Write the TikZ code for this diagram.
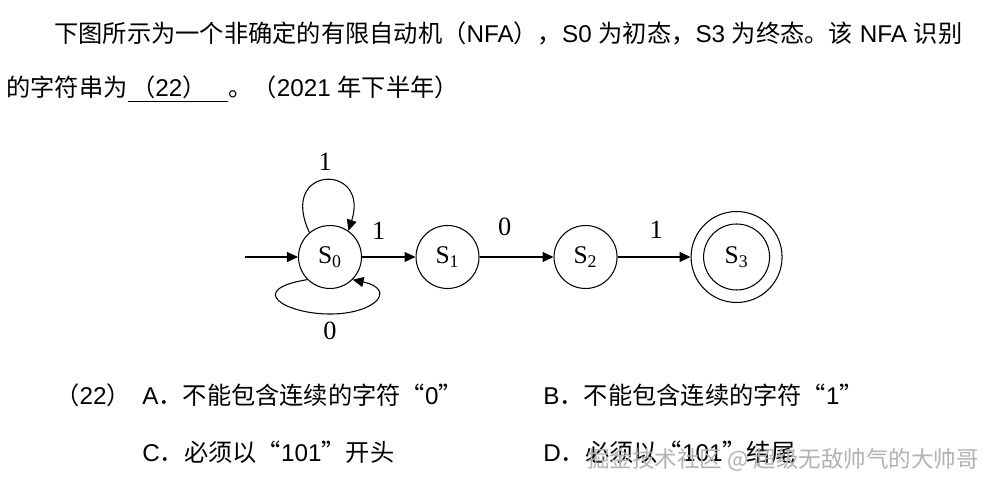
\documentclass[tikz,border=0pt]{standalone}
\usepackage{fontspec}
\setmainfont{Liberation Sans}
\newfontfamily\cjk{Noto Sans CJK SC}
\newfontfamily\tms{Liberation Serif}
\newcommand\lat[1]{{\rmfamily #1}}
\usetikzlibrary{positioning,arrows.meta}

\begin{document}
\begin{tikzpicture}[
    x=0.02cm, y=-0.02cm,
    node distance=1.07cm,
    state/.style={draw, circle, line width=0.6pt, minimum size=1.26cm, inner sep=0pt, font=\tms\fontsize{14.5}{16}\selectfont},
    arr/.style={-{Triangle[length=2.2mm,width=2mm]}, line width=0.6pt},
    lbl/.style={font=\tms\fontsize{15}{18}\selectfont, inner sep=0pt},
    txt/.style={anchor=base west, inner sep=0pt, font=\cjk\fontsize{13.8}{16}\selectfont}
]
\fill[white] (0,0) rectangle (988,489);
\useasboundingbox (0,0) rectangle (988,489);
% question text
\node[txt] (line1) at (54,42.5) {下图所示为一个非确定的有限自动机（\lat{NFA}），\lat{S0 }为初态，\lat{S3 }为终态。该\lat{ NFA }识别};
\node[txt] (line2) at (6,96.7) {的字符串为\underline{\hspace{0.15em}（\lat{22}）\hspace{0.9em}}。（\lat{2021 }年下半年）};
% automaton
\node[state] (S0) at (330,257) {S\textsubscript{0}};
\node[state, right=of S0] (S1) {S\textsubscript{1}};
\node[state, right=1.48cm of S1] (S2) {S\textsubscript{2}};
\node[state, minimum size=1.82cm, right=1.46cm of S2] (S3) {};
\node[state, minimum size=1.32cm] (S3in) at (S3) {S\textsubscript{3}};
\coordinate (start) at (245,257);
\path (S0.south) ++(0,25) coordinate (bot);
\draw[arr] (start) -- (S0);
\draw[arr] (S0) -- node[lbl, pos=.31, above=0.34cm] {1} (S1);
\draw[arr] (S1) -- node[lbl, pos=.34, above=0.42cm] {0} (S2);
\draw[arr] (S2) -- node[lbl, pos=.53, above=0.36cm] {1} (S3);
\draw[arr] (S0.130) .. controls +(-32,-68) and +(22,-68) .. node[lbl, above=0.2cm] {1} (S0.55);
\draw[arr] (S0.225) .. controls +(-62,10) and +(-45,0) .. (bot)
    .. controls +(45,0) and +(45,10) .. (S0.315);
\node[lbl, below=0.16cm] (zero) at (bot) {0};
% options
\node[txt] (q) at (55,405) {（\lat{22}）};
\node[txt] (optA) at (142,405) {\lat{A}．不能包含连续的字符“\lat{0}”};
\node[txt] (optB) at (543,405) {\lat{B}．不能包含连续的字符“\lat{1}”};
\node[txt] (optC) at (142,461.5) {\lat{C}．必须以“\lat{101}”开头};
\node[txt] (optD) at (543,461.5) {\lat{D}．必须以“\lat{101}”结尾};
\node[txt, text=gray!60, font=\cjk\fontsize{12.8}{15}\selectfont] (mark) at (587,468) {掘金技术社区 @ 超级无敌帅气的大帅哥};
\end{tikzpicture}
\end{document}
